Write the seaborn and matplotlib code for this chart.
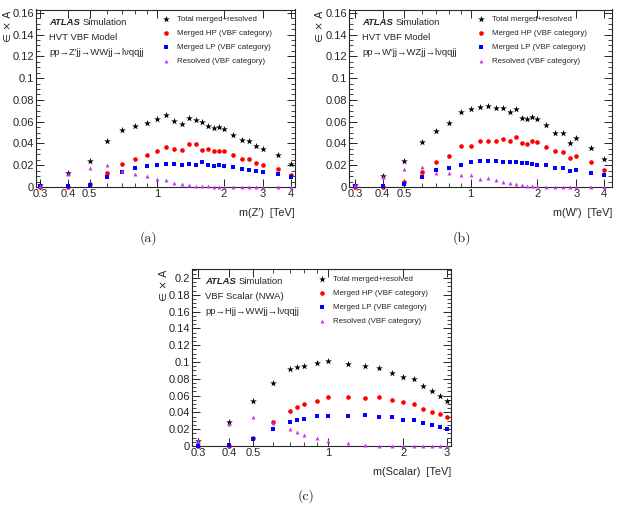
import numpy as np
import pandas as pd
import matplotlib
matplotlib.use("Agg")
import matplotlib.pyplot as plt
from matplotlib.ticker import MultipleLocator, FixedLocator, FixedFormatter, NullFormatter
import seaborn as sns

# ---- data (efficiency x acceptance) ----
masses_a = [0.3, 0.4, 0.5, 0.6, 0.7, 0.8, 0.9, 1.0, 1.1, 1.2, 1.3, 1.4, 1.5,
            1.6, 1.7, 1.8, 1.9, 2.0, 2.2, 2.4, 2.6, 2.8, 3.0, 3.5, 4.0]
total_a = [0.002, 0.013, 0.024, 0.042, 0.052, 0.056, 0.059, 0.0625, 0.066, 0.061, 0.058, 0.0637, 0.0616,
           0.0594, 0.056, 0.054, 0.055, 0.0536, 0.0475, 0.043, 0.042, 0.0375, 0.035, 0.029, 0.021]
hp_a = [0.0004, 0.0003, 0.003, 0.0125, 0.0213, 0.026, 0.029, 0.0335, 0.0366, 0.035, 0.0344, 0.0393, 0.0393,
        0.0344, 0.035, 0.0335, 0.0335, 0.0335, 0.029, 0.026, 0.026, 0.0222, 0.020, 0.0168, 0.011]
lp_a = [0.001, 0.0008, 0.002, 0.0088, 0.0134, 0.0177, 0.019, 0.020, 0.021, 0.0207, 0.0204, 0.021, 0.0204,
        0.023, 0.020, 0.0192, 0.0204, 0.0195, 0.018, 0.0165, 0.0155, 0.0146, 0.0137, 0.0116, 0.009]
res_a = [0.001, 0.012, 0.0174, 0.0198, 0.015, 0.012, 0.010, 0.0073, 0.0064, 0.0037, 0.0024, 0.0018, 0.0012,
         0.0008, 0.0005, 0.0003, 0.0002, 0.0002, 0.0001, 0.0001, 0.0001, 0.0001, 0.0, 0.0, 0.0]

masses_b = masses_a
total_b = [0.002, 0.0097, 0.024, 0.0416, 0.0513, 0.0589, 0.0686, 0.0716, 0.0735, 0.0747, 0.0729, 0.0723, 0.0686,
           0.0716, 0.0638, 0.0628, 0.064, 0.0625, 0.0565, 0.050, 0.050, 0.0407, 0.045, 0.0355, 0.0255]
hp_b = [0.0004, 0.0003, 0.0042, 0.0137, 0.0228, 0.0285, 0.0376, 0.038, 0.0425, 0.0422, 0.0425, 0.0443, 0.0425,
        0.0455, 0.0407, 0.0398, 0.0419, 0.0413, 0.0367, 0.0328, 0.0325, 0.0264, 0.0282, 0.0225, 0.0155]
lp_b = [0.001, 0.001, 0.003, 0.0091, 0.016, 0.0179, 0.0203, 0.023, 0.024, 0.024, 0.0237, 0.0234, 0.023,
        0.0234, 0.0216, 0.0216, 0.0213, 0.0206, 0.020, 0.017, 0.0176, 0.0143, 0.016, 0.0124, 0.0106]
res_b = [0.002, 0.009, 0.0164, 0.0185, 0.0124, 0.0127, 0.0112, 0.0112, 0.0076, 0.0085, 0.0064, 0.0046, 0.004,
         0.0027, 0.0018, 0.0012, 0.001, 0.0008, 0.0004, 0.0003, 0.0002, 0.0001, 0.0001, 0.0, 0.0]

masses_c = [0.3, 0.4, 0.5, 0.6, 0.7, 0.75, 0.8, 0.9, 1.0, 1.2, 1.4, 1.6, 1.8, 2.0, 2.2, 2.4, 2.6, 2.8, 3.0]
total_c = [0.006, 0.028, 0.054, 0.0755, 0.092, 0.0946, 0.0954, 0.099, 0.1006, 0.0974, 0.095, 0.0926,
           0.087, 0.082, 0.080, 0.071, 0.065, 0.0596, 0.054]
hp_c = [0.0004, 0.0003, 0.010, 0.0286, 0.042, 0.0465, 0.0497, 0.0537, 0.0588, 0.0588, 0.0577, 0.058,
        0.0545, 0.052, 0.0505, 0.0445, 0.0405, 0.0378, 0.034]
lp_c = [0.0005, 0.001, 0.008, 0.020, 0.029, 0.031, 0.0326, 0.036, 0.036, 0.036, 0.037, 0.035,
        0.034, 0.031, 0.0306, 0.027, 0.025, 0.023, 0.0207]
res_c = [0.006, 0.026, 0.035, 0.027, 0.020, 0.017, 0.0135, 0.009, 0.006, 0.003, 0.001, 0.0005,
         0.0003, 0.0002, 0.0001, 0.0001, 0.0, 0.0, 0.0]

labels = ["Total merged+resolved", "Merged HP (VBF category)",
          "Merged LP (VBF category)", "Resolved (VBF category)"]
colors = ["black", "#ff0000", "#0000ff", "#cc33ee"]
markers = ["*", "o", "s", "^"]
sizes = [26, 11, 11, 8]

sns.set_style("ticks")
plt.rcParams["font.family"] = ["Liberation Sans", "DejaVu Sans"]
plt.rcParams["xtick.direction"] = "in"
plt.rcParams["ytick.direction"] = "in"
plt.rcParams["xtick.top"] = True
plt.rcParams["ytick.right"] = True
plt.rcParams["axes.linewidth"] = 0.8

W, H = 621, 507
fig = plt.figure(figsize=(W / 100, H / 100), dpi=100)


def panel(box, masses, series, xlim, ylim, xticks, xlabel, lines, caption, cap_xy):
    l, t, r, b = box
    ax = fig.add_axes([l / W, 1 - b / H, (r - l) / W, (b - t) / H])
    for vals, lab, col, mk, sz in zip(series, labels, colors, markers, sizes):
        df = pd.DataFrame({"mass": masses, "eff": vals})
        sns.scatterplot(data=df, x="mass", y="eff", ax=ax, color=col, marker=mk,
                        s=sz, linewidth=0, label=lab, zorder=3, clip_on=False)
    ax.set_xscale("log")
    ax.set_xlim(*xlim)
    ax.set_ylim(*ylim)
    ax.xaxis.set_major_locator(FixedLocator(xticks))
    ax.xaxis.set_major_formatter(FixedFormatter([f"{v:g}" for v in xticks]))
    ax.xaxis.set_minor_locator(FixedLocator([0.6, 0.7, 0.8, 0.9]))
    ax.xaxis.set_minor_formatter(NullFormatter())
    ax.yaxis.set_major_locator(MultipleLocator(0.02))
    ax.yaxis.set_minor_locator(MultipleLocator(0.005))
    ax.yaxis.set_major_formatter(plt.FuncFormatter(lambda v, p: f"{v:g}"))
    ax.tick_params(which="major", length=6, width=0.7, labelsize=8, pad=1.5)
    ax.tick_params(which="minor", length=3, width=0.6)
    ax.set_xlabel("")
    ax.set_ylabel("")
    ax.text(1.0, -0.12, xlabel, transform=ax.transAxes, ha="right", va="top", fontsize=7.8)
    ax.text(-0.11, 0.995, "∈ × A", transform=ax.transAxes, rotation=90,
            ha="center", va="top", fontsize=7.5, family=["DejaVu Sans"])

    ax.text(0.05, 0.927, "ATLAS", transform=ax.transAxes, fontsize=6.8,
            fontweight="bold", fontstyle="italic", va="center")
    ax.text(0.05 + 0.128, 0.927, "Simulation", transform=ax.transAxes, fontsize=6.8, va="center")
    for i, txt in enumerate(lines):
        ax.text(0.05, 0.842 - 0.084 * i, txt, transform=ax.transAxes, fontsize=6.8, va="center")

    ax.legend(frameon=False, loc="upper left", bbox_to_anchor=(0.485, 0.965),
              fontsize=5.7, handlelength=1.0, handletextpad=0.9, labelspacing=0.82,
              borderpad=0, borderaxespad=0, markerscale=1.0)
    fig.text(cap_xy[0] / W, 1 - cap_xy[1] / H, caption, ha="center", va="center",
             fontsize=10, family="cmr10")
    return ax


panel((36, 9.5, 295, 187), masses_a, [total_a, hp_a, lp_a, res_a], (0.287, 4.17), (0, 0.163),
      [0.3, 0.4, 0.5, 1, 2, 3, 4], "m(Z′)  [TeV]",
      ["HVT VBF Model", "pp→Z′jj→WWjj→lνqqjj"], "(a)", (148, 238))
panel((349, 9.5, 612, 187), masses_b, [total_b, hp_b, lp_b, res_b], (0.282, 4.35), (0, 0.163),
      [0.3, 0.4, 0.5, 1, 2, 3, 4], "m(W′)  [TeV]",
      ["HVT VBF Model", "pp→W′jj→WZjj→lνqqjj"], "(b)", (462, 238))
panel((192, 269, 451, 446), masses_c, [total_c, hp_c, lp_c, res_c], (0.2834, 3.11), (0, 0.2107),
      [0.3, 0.4, 0.5, 1, 2, 3], "m(Scalar)  [TeV]",
      ["VBF Scalar (NWA)", "pp→Hjj→WWjj→lνqqjj"], "(c)", (306, 496))

fig.savefig("out.png", dpi=100)
